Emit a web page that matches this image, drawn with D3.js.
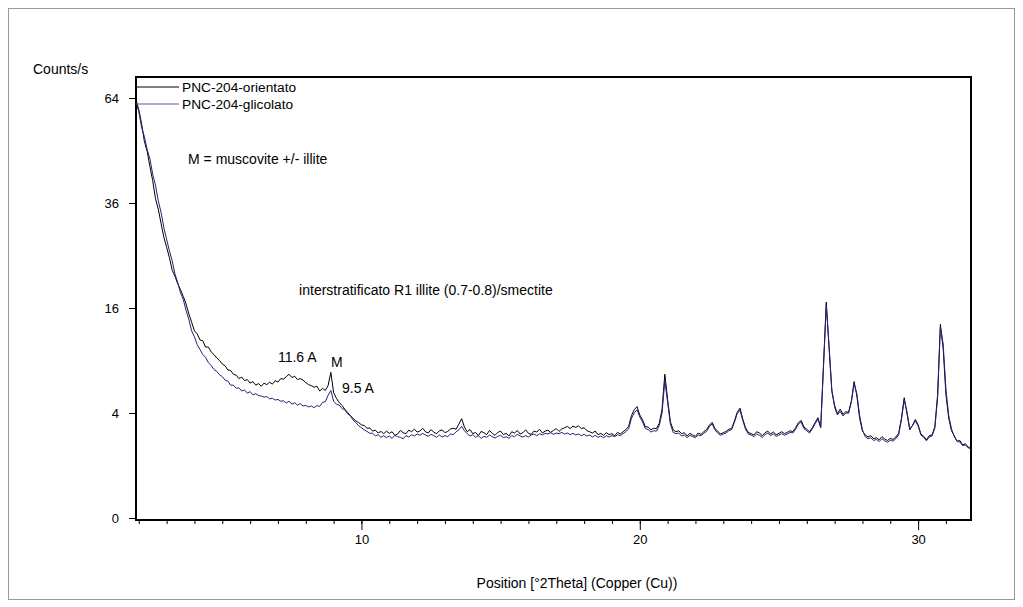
<!DOCTYPE html>
<html>
<head>
<meta charset="utf-8">
<script src="https://cdn.jsdelivr.net/npm/d3@7"></script>
<style>
  body { margin: 0; background: #fff; }
  text { font-family: "Liberation Sans", Arial, sans-serif; }
</style>
</head>
<body>
<div id="chart"></div>
<script>
// scan: start angle and step in °2Theta
var scanStart = 1.9;
var scanStep = 0.1;

// PNC-204-orientato (counts/s)
var orientato = [
  63.4, 60.5, 56.5, 51.5, 48.8, 44.8, 41.3, 37.0, 34.6, 31.5,
  28.6, 26.6, 24.6, 22.3, 21.2, 19.9, 18.9, 17.8, 16.6, 15.1,
  13.9, 12.7, 12.3, 11.5, 11.4, 10.6, 10.6, 10.0, 9.7, 9.3,
  9.00, 8.60, 8.40, 7.95, 7.90, 7.50, 7.40, 7.05, 7.20, 6.85,
  6.95, 6.60, 6.75, 6.40, 6.55, 6.30, 6.60, 6.45, 6.70, 6.50,
  6.85, 6.70, 7.05, 7.00, 7.25, 7.50, 7.15, 7.30, 6.95, 7.05,
  6.90, 6.65, 6.45, 6.35, 6.20, 6.30, 5.85, 6.10, 5.90, 6.35,
  7.70, 5.70, 5.20, 4.85, 4.60, 4.30, 4.05, 3.80, 3.60, 3.42,
  3.30, 3.15, 3.10, 2.92, 2.94, 2.74, 2.80, 2.62, 2.72, 2.58,
  2.74, 2.60, 2.70, 2.48, 2.56, 2.78, 2.64, 2.58, 2.80, 2.70,
  2.86, 2.68, 2.74, 2.92, 2.70, 2.62, 2.84, 2.66, 2.58, 2.76,
  2.82, 2.64, 2.72, 2.88, 2.92, 2.86, 3.20, 3.58, 3.00, 2.70,
  2.84, 2.58, 2.66, 2.46, 2.72, 2.64, 2.52, 2.78, 2.60, 2.48,
  2.66, 2.74, 2.52, 2.60, 2.44, 2.70, 2.62, 2.78, 2.56, 2.64,
  2.82, 2.60, 2.54, 2.74, 2.68, 2.86, 2.62, 2.74, 2.80, 2.66,
  2.78, 2.90, 2.72, 2.88, 2.96, 3.04, 2.90, 3.06, 2.98, 3.08,
  2.90, 2.96, 2.76, 2.70, 2.62, 2.74, 2.52, 2.60, 2.48, 2.64,
  2.52, 2.58, 2.46, 2.66, 2.56, 2.70, 2.84, 3.05, 3.80, 4.25,
  4.50, 3.85, 3.50, 3.02, 3.00, 2.82, 2.92, 2.90, 3.25, 4.30,
  7.50, 5.10, 3.35, 2.82, 2.70, 2.76, 2.58, 2.64, 2.44, 2.60,
  2.50, 2.42, 2.62, 2.54, 2.70, 2.84, 3.12, 3.32, 2.90, 2.74,
  2.56, 2.64, 2.72, 2.86, 2.90, 3.42, 4.05, 4.38, 3.55, 2.95,
  2.66, 2.58, 2.50, 2.70, 2.62, 2.46, 2.64, 2.74, 2.56, 2.68,
  2.52, 2.60, 2.70, 2.58, 2.66, 2.76, 2.70, 2.96, 3.30, 3.45,
  3.00, 2.86, 2.70, 2.96, 3.30, 3.65, 3.00, 8.50, 16.9, 10.5,
  5.80, 4.60, 3.95, 4.30, 3.90, 4.10, 4.05, 4.95, 6.75, 5.40,
  3.60, 2.74, 2.50, 2.38, 2.46, 2.28, 2.34, 2.22, 2.40, 2.26,
  2.18, 2.30, 2.24, 2.38, 2.60, 3.60, 5.25, 3.95, 2.82, 3.12,
  3.52, 3.15, 2.56, 2.42, 2.22, 2.46, 2.50, 3.02, 5.50, 13.6,
  10.4, 5.50, 3.62, 2.76, 2.44, 2.14, 2.18, 1.94, 2.00, 1.82,
  1.80
];

// PNC-204-glicolato (counts/s)
var glicolato = [
  62.5, 60.0, 55.4, 52.8, 49.3, 46.8, 42.9, 40.2, 36.5, 33.9,
  30.6, 28.2, 25.9, 24.0, 21.6, 20.1, 18.4, 17.3, 15.6, 14.3,
  12.7, 11.9, 10.9, 10.3, 9.70, 9.35, 8.75, 8.45, 8.00, 7.80,
  7.45, 7.25, 6.90, 6.80, 6.40, 6.40, 6.10, 6.15, 5.85, 5.95,
  5.65, 5.80, 5.50, 5.60, 5.45, 5.40, 5.30, 5.35, 5.15, 5.20,
  5.05, 5.10, 4.95, 4.98, 4.80, 4.95, 4.70, 4.82, 4.62, 4.75,
  4.55, 4.60, 4.48, 4.55, 4.42, 4.58, 4.52, 4.85, 4.90, 5.45,
  5.90, 4.95, 4.70, 4.62, 4.35, 4.25, 3.95, 3.80, 3.48, 3.30,
  3.08, 2.96, 2.82, 2.72, 2.60, 2.62, 2.44, 2.52, 2.36, 2.46,
  2.34, 2.44, 2.30, 2.48, 2.40, 2.36, 2.28, 2.46, 2.38, 2.52,
  2.44, 2.56, 2.48, 2.60, 2.50, 2.42, 2.54, 2.46, 2.36, 2.50,
  2.38, 2.46, 2.40, 2.56, 2.52, 2.70, 2.82, 3.05, 2.76, 2.58,
  2.44, 2.52, 2.36, 2.46, 2.30, 2.42, 2.36, 2.50, 2.40, 2.32,
  2.42, 2.48, 2.34, 2.40, 2.30, 2.46, 2.40, 2.54, 2.44, 2.38,
  2.46, 2.38, 2.50, 2.56, 2.46, 2.58, 2.50, 2.60, 2.56, 2.64,
  2.54, 2.62, 2.58, 2.66, 2.56, 2.62, 2.52, 2.60, 2.50, 2.56,
  2.46, 2.54, 2.44, 2.50, 2.38, 2.48, 2.36, 2.44, 2.34, 2.46,
  2.38, 2.46, 2.40, 2.52, 2.46, 2.58, 2.70, 2.90, 3.60, 4.00,
  4.25, 3.70, 3.35, 2.90, 2.84, 2.68, 2.76, 2.74, 3.10, 4.00,
  6.85, 4.85, 3.20, 2.66, 2.58, 2.62, 2.44, 2.50, 2.34, 2.48,
  2.40, 2.34, 2.50, 2.46, 2.60, 2.72, 3.02, 3.22, 2.82, 2.62,
  2.48, 2.56, 2.62, 2.76, 2.84, 3.32, 3.95, 4.22, 3.45, 2.86,
  2.56, 2.50, 2.40, 2.56, 2.48, 2.36, 2.52, 2.62, 2.46, 2.56,
  2.42, 2.50, 2.58, 2.48, 2.56, 2.66, 2.62, 2.86, 3.20, 3.34,
  2.90, 2.76, 2.62, 2.88, 3.22, 3.55, 2.95, 8.20, 16.4, 10.8,
  6.00, 4.45, 3.85, 4.12, 3.78, 4.00, 3.98, 4.85, 6.55, 5.60,
  3.80, 2.82, 2.40, 2.28, 2.34, 2.18, 2.24, 2.12, 2.28, 2.16,
  2.08, 2.20, 2.14, 2.28, 2.50, 3.50, 5.05, 4.10, 2.88, 3.10,
  3.42, 3.08, 2.50, 2.36, 2.16, 2.38, 2.44, 2.92, 5.25, 13.3,
  11.0, 6.00, 3.80, 2.88, 2.40, 2.12, 2.10, 1.90, 1.94, 1.78,
  1.74
];

var yTicks = [0, 4, 16, 36, 64];
var xMajorTicks = [10, 20, 30];
var seriesNames = ["PNC-204-orientato", "PNC-204-glicolato"];
var annotations = [
  { text: "M = muscovite +/- illite", deg: 3.77, cps: 46.8 },
  { text: "interstratificato R1 illite (0.7-0.8)/smectite", deg: 7.76, cps: 18.9 },
  { text: "11.6 A", deg: 7.0, cps: 9.4 },
  { text: "M", deg: 8.91, cps: 8.83 },
  { text: "9.5 A", deg: 9.3, cps: 6.13 }
];

var svgWidth = 1023;
var svgHeight = 607;
var plot = { left: 136, right: 971, top: 77, bottom: 520 };

var svg = d3.select("#chart")
  .append("svg")
  .attr("width", svgWidth)
  .attr("height", svgHeight);

// outer frame
svg.append("rect")
  .attr("x", 8.5).attr("y", 8.5)
  .attr("width", 1006).attr("height", 591)
  .attr("fill", "none")
  .attr("stroke", "#9a9a9a");

var x = d3.scaleLinear().domain([1.9, 31.9]).range([plot.left, plot.right]);
var y = d3.scaleSqrt().domain([0, 70.56]).range([518, plot.top]);

function toPoints(values) {
  return values.map(function(v, i) {
    return [scanStart + i * scanStep, v];
  });
}

var line = d3.line()
  .x(function(d) { return x(d[0]); })
  .y(function(d) { return y(d[1]); });

svg.append("defs").append("clipPath").attr("id", "clip")
  .append("rect")
  .attr("x", plot.left).attr("y", plot.top)
  .attr("width", plot.right - plot.left).attr("height", plot.bottom - plot.top);

var traces = svg.append("g").attr("clip-path", "url(#clip)");

traces.append("path")
  .datum(toPoints(orientato))
  .attr("fill", "none")
  .attr("stroke", "#000")
  .attr("stroke-width", 1)
  .attr("d", line);

traces.append("path")
  .datum(toPoints(glicolato))
  .attr("fill", "none")
  .attr("stroke", "#22227a")
  .attr("stroke-width", 1)
  .attr("d", line);

// axes
var leftAxis = d3.axisLeft(y).tickValues(yTicks).tickSize(7).tickPadding(10);
var gy = svg.append("g")
  .attr("transform", "translate(" + plot.left + ",0)")
  .call(leftAxis);
gy.select(".domain").remove();
gy.selectAll("text").style("font-size", "13px").attr("fill", "#000");

var minorAxis = d3.axisBottom(x).tickValues(d3.range(2, 32)).tickSize(4).tickFormat("");
var gxm = svg.append("g")
  .attr("transform", "translate(0," + plot.bottom + ")")
  .call(minorAxis);
gxm.select(".domain").remove();

var majorAxis = d3.axisBottom(x).tickValues(xMajorTicks).tickSize(10).tickPadding(5);
var gx = svg.append("g")
  .attr("transform", "translate(0," + plot.bottom + ")")
  .call(majorAxis);
gx.select(".domain").remove();
gx.selectAll("text").style("font-size", "13px").attr("fill", "#000");

// plot frame
svg.append("rect")
  .attr("x", plot.left).attr("y", plot.top)
  .attr("width", plot.right - plot.left).attr("height", plot.bottom - plot.top)
  .attr("fill", "none")
  .attr("stroke", "#000")
  .attr("stroke-width", 2);

svg.append("text")
  .attr("x", 33).attr("y", 74)
  .style("font-size", "14px")
  .text("Counts/s");

svg.append("text")
  .attr("x", 577).attr("y", 588)
  .attr("text-anchor", "middle")
  .style("font-size", "14px")
  .text("Position [°2Theta] (Copper (Cu))");

// legend
var legendColors = ["#000", "#5a5a8c"];
seriesNames.forEach(function(name, i) {
  var ly = 87 + i * 17;
  svg.append("line")
    .attr("x1", plot.left).attr("x2", 179)
    .attr("y1", ly).attr("y2", ly)
    .attr("stroke", legendColors[i]);
  svg.append("text")
    .attr("x", 182).attr("y", ly)
    .attr("dy", "0.35em")
    .style("font-size", "13.7px")
    .text(name);
});

// annotations
svg.selectAll(".note")
  .data(annotations)
  .enter()
  .append("text")
  .attr("class", "note")
  .attr("x", function(d) { return x(d.deg); })
  .attr("y", function(d) { return y(d.cps); })
  .attr("dy", "0.35em")
  .style("font-size", "14px")
  .text(function(d) { return d.text; });
</script>
</body>
</html>
